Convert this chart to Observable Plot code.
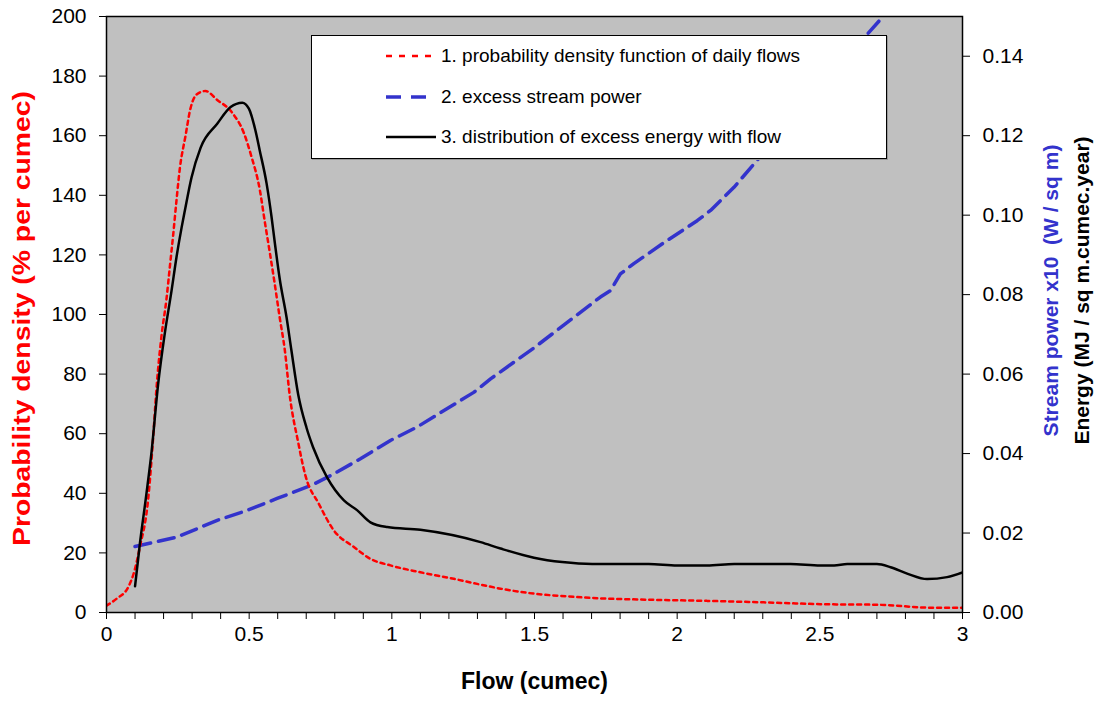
<!DOCTYPE html>
<html>
<head>
<meta charset="utf-8">
<script src="https://cdn.jsdelivr.net/npm/d3@7"></script>
<script src="https://cdn.jsdelivr.net/npm/@observablehq/plot@0.6"></script>
<style>
  html, body { margin: 0; padding: 0; background: #fff; }
  #wrap { position: relative; width: 1102px; height: 709px; font-family: "Liberation Sans", Arial, sans-serif; }
  #legend { position: absolute; left: 311px; top: 35px; width: 576px; height: 124px; box-sizing: border-box;
            border: 1px solid #000; background: #fff; box-shadow: 1px 1px 0 #999; }
  .row { position: absolute; left: 0; height: 22px; width: 100%; }
  .row svg { position: absolute; left: 74px; top: 0; }
  .row span { position: absolute; left: 129px; top: 0; font-size: 19px; line-height: 22px; color: #000; white-space: pre; }
</style>
</head>
<body>
<div id="wrap"></div>
<script>
// ---- data ----
const xTitle = "Flow (cumec)";
const leftTitle = "Probability density (% per cumec)";
const rightTitle1 = "Stream power x10\u00a0 (W / sq m)";
const rightTitle2 = "Energy (MJ / sq m.cumec.year)";
const legendLabels = ["1. probability density function of daily flows", "2. excess stream power", "3. distribution of excess energy with flow"];

const xMajorTicks = [0, 0.5, 1, 1.5, 2, 2.5, 3];
const xMinorTicks = [0.1,0.2,0.3,0.4,0.6,0.7,0.8,0.9,1.1,1.2,1.3,1.4,1.6,1.7,1.8,1.9,2.1,2.2,2.3,2.4,2.6,2.7,2.8,2.9];
const leftTicks = [0, 20, 40, 60, 80, 100, 120, 140, 160, 180, 200];
const rightTicks = [0, 0.02, 0.04, 0.06, 0.08, 0.10, 0.12, 0.14];

// 1. probability density (% per cumec), left axis
const pdfFlow = [0, 0.035, 0.076, 0.095, 0.117, 0.146, 0.163, 0.175, 0.193, 0.21, 0.222, 0.234, 0.245, 0.257, 0.277, 0.294, 0.318, 0.347, 0.388, 0.438, 0.481, 0.508, 0.537, 0.555, 0.572, 0.59, 0.607, 0.625, 0.642, 0.672, 0.697, 0.744, 0.797, 0.867, 0.925, 0.995, 1.1, 1.217, 1.299, 1.381, 1.5, 1.615, 1.696, 1.895, 2.105, 2.304, 2.502, 2.7, 2.9, 3.0];
const pdfValue = [2.3, 4.6, 8.5, 13, 22, 38, 58, 75, 93, 105, 116, 127, 138, 149, 160, 169, 174, 175, 172, 168, 161, 153, 142, 131, 121, 110, 99, 88, 73, 57, 46, 36.5, 27.5, 22, 18, 15.8, 13.5, 11.3, 9.6, 8, 6.3, 5.4, 4.9, 4.3, 3.9, 3.4, 2.8, 2.6, 1.6, 1.6];

// 2. excess stream power x10 (W / sq m), right axis
const powerFlow = [0.1, 0.248, 0.388, 0.493, 0.598, 0.718, 0.797, 0.89, 0.995, 1.089, 1.287, 1.346, 1.5, 1.6, 1.731, 1.766, 1.801, 1.848, 1.948, 2.07, 2.117, 2.199, 2.28, 2.4, 2.5, 2.6, 2.666, 2.724, 2.75];
const powerValue = [0.0166, 0.019, 0.0232, 0.0257, 0.0287, 0.032, 0.0349, 0.0387, 0.0433, 0.0467, 0.0554, 0.0588, 0.0667, 0.0722, 0.0794, 0.081, 0.0852, 0.0878, 0.0928, 0.0986, 0.1012, 0.107, 0.1138, 0.124, 0.131, 0.1395, 0.1455, 0.1502, 0.152];

// 3. excess energy (MJ / sq m.cumec.year), right axis
const energyFlow = [0.1, 0.117, 0.14, 0.158, 0.181, 0.204, 0.228, 0.245, 0.263, 0.275, 0.298, 0.33, 0.388, 0.435, 0.476, 0.499, 0.522, 0.537, 0.561, 0.578, 0.59, 0.607, 0.631, 0.648, 0.672, 0.701, 0.724, 0.773, 0.832, 0.879, 0.925, 0.984, 1.1, 1.311, 1.381, 1.498, 1.597, 1.702, 1.9, 2.0, 2.105, 2.2, 2.397, 2.502, 2.55, 2.596, 2.7, 2.748, 2.806, 2.876, 2.946, 3.0];
const energyValue = [0.0066, 0.0173, 0.0299, 0.0405, 0.0575, 0.0701, 0.081, 0.0893, 0.0968, 0.1013, 0.1095, 0.117, 0.123, 0.1272, 0.1283, 0.1268, 0.1213, 0.1163, 0.108, 0.0998, 0.093, 0.084, 0.0743, 0.066, 0.0548, 0.0465, 0.0416, 0.034, 0.0282, 0.0257, 0.0227, 0.0215, 0.0208, 0.0177, 0.0161, 0.0138, 0.0127, 0.0122, 0.0122, 0.0118, 0.0118, 0.0122, 0.0122, 0.0118, 0.0118, 0.0122, 0.0122, 0.0114, 0.0098, 0.0084, 0.0089, 0.0101];

// ---- build ----
const K = 200 / 0.15; // right-axis units -> left-axis units
const pdfRows = pdfFlow.map((x, i) => ({x, y: pdfValue[i]}));
const powerRows = powerFlow.map((x, i) => ({x, y: powerValue[i] * K}));
const energyRows = energyFlow.map((x, i) => ({x, y: energyValue[i] * K}));

const chart = Plot.plot({
  width: 1102,
  height: 709,
  marginLeft: 106,
  marginRight: 140,
  marginTop: 16,
  marginBottom: 97,
  style: {fontSize: "21px", fontFamily: "'Liberation Sans', Arial, sans-serif", background: "transparent", color: "#000"},
  x: {domain: [0, 3]},
  y: {domain: [0, 200]},
  marks: [
    Plot.frame({fill: "#c0c0c0", stroke: null}),
    Plot.axisX({ticks: xMinorTicks, tickFormat: () => "", tickSize: 7, label: null}),
    Plot.axisX({ticks: xMajorTicks, tickFormat: d => String(d), tickSize: 7, tickPadding: 7, label: null}),
    Plot.axisY({anchor: "left", ticks: leftTicks, tickSize: 7, tickPadding: 13, label: null}),
    Plot.axisY({anchor: "right", ticks: rightTicks.map(v => v * K), tickFormat: d => (d / K).toFixed(2), tickSize: 7, tickPadding: 13, label: null}),
    Plot.line(powerRows, {x: "x", y: "y", stroke: "#3333cc", strokeWidth: 3.5, strokeDasharray: "16,8", clip: true}),
    Plot.line(pdfRows, {x: "x", y: "y", stroke: "#ff0000", strokeWidth: 2.5, strokeDasharray: "4,4", curve: "monotone-x", clip: true}),
    Plot.line(energyRows, {x: "x", y: "y", stroke: "#000", strokeWidth: 2.5, curve: "monotone-x", clip: true}),
    Plot.frame({stroke: "#000", strokeWidth: 1.5}),
    Plot.text([xTitle], {text: d => d, frameAnchor: "bottom", dy: 76, textAnchor: "middle", fontWeight: "bold", fontSize: 23, fill: "#000"}),
    Plot.text([leftTitle], {text: d => d, frameAnchor: "left", dx: -84, dy: 4, rotate: -90, textAnchor: "middle", fontWeight: "bold", fontSize: 23, fill: "#ff0000"}),
    Plot.text([rightTitle1], {text: d => d, frameAnchor: "right", dx: 89, dy: -24, rotate: -90, textAnchor: "middle", fontWeight: "bold", fontSize: 21, fill: "#3333cc"}),
    Plot.text([rightTitle2], {text: d => d, frameAnchor: "right", dx: 120, dy: -24, rotate: -90, textAnchor: "middle", fontWeight: "bold", fontSize: 21, fill: "#000"})
  ]
});

// the original's left title is drawn wider than its natural width
d3.select(chart).selectAll("text").filter(function() { return this.textContent === leftTitle; })
  .attr("textLength", 455).attr("lengthAdjust", "spacingAndGlyphs");

const wrap = document.getElementById("wrap");
wrap.appendChild(chart);

// legend overlay
const legend = document.createElement("div");
legend.id = "legend";
const styles = [
  {stroke: "#ff0000", width: 2.5, dash: "6,7", len: 52},
  {stroke: "#3333cc", width: 3.5, dash: "15,10", len: 40},
  {stroke: "#000", width: 2.5, dash: null, len: 50}
];
const rowTops = [9, 50, 90];
legendLabels.forEach((label, i) => {
  const row = document.createElement("div");
  row.className = "row";
  row.style.top = rowTops[i] + "px";
  const s = styles[i];
  row.innerHTML = `<svg width="${s.len + 2}" height="22"><line x1="0" y1="11" x2="${s.len}" y2="11" stroke="${s.stroke}" stroke-width="${s.width}" ${s.dash ? `stroke-dasharray="${s.dash}"` : ""}/></svg><span></span>`;
  row.querySelector("span").textContent = label;
  legend.appendChild(row);
});
wrap.appendChild(legend);
</script>
</body>
</html>
